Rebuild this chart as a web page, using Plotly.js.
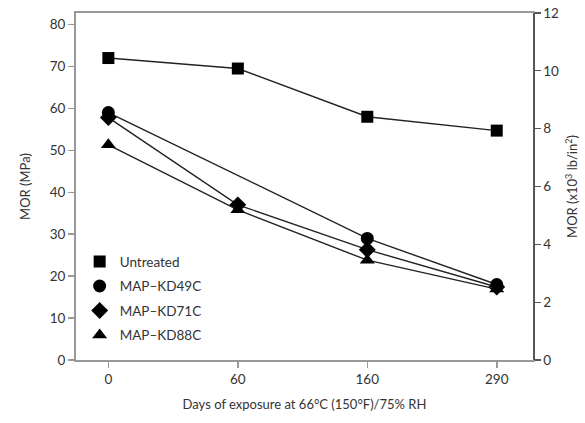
<!DOCTYPE html>
<html>
<head>
<meta charset="utf-8">
<script src="https://cdn.plot.ly/plotly-3.0.1.min.js"></script>
<style>html,body{margin:0;padding:0;background:#fff;}#chart{width:585px;height:423px;}</style>
</head>
<body>
<div id="chart"></div>
<script>
const days = ["0", "60", "160", "290"];
const untreated = [72, 69.5, 58, 54.7];
const kd49c = [59, null, 29, 18];
const kd71c = [57.8, 37, 26.3, 17.4];
const kd88c = [51.3, 35.8, 23.8, 16.9];
const seriesNames = ["Untreated", "MAP\u2013KD49C", "MAP\u2013KD71C", "MAP\u2013KD88C"];
const symbols = ["square", "circle", "diamond", "triangle-up"];
const markerSizes = [12, 13, 13, 13];
const seriesData = [untreated, kd49c, kd71c, kd88c];

const fontFam = "Lato, 'Open Sans', sans-serif";
const traces = [];
seriesData.forEach((vals, i) => {
  traces.push({
    x: days, y: vals, type: "scatter", mode: "lines+markers",
    connectgaps: true, showlegend: false,
    line: {color: "#222", width: 1.4},
    marker: {symbol: symbols[i], size: markerSizes[i], color: "#000"},
    hoverinfo: "skip"
  });
});
seriesData.forEach((vals, i) => {
  traces.push({
    x: [null], y: [null], type: "scatter", mode: "markers", yaxis: "y2",
    name: seriesNames[i], legendgroup: "g" + i, showlegend: true,
    marker: {symbol: symbols[i], size: markerSizes[i], color: "#000"}
  });
});

const layout = {
  width: 585, height: 423,
  margin: {l: 76, r: 52, t: 13, b: 63},
  paper_bgcolor: "#fff", plot_bgcolor: "#fff",
  font: {family: fontFam, size: 13, color: "#333"},
  showlegend: true,
  legend: {x: 0.008, y: 0.328, xanchor: "left", yanchor: "top",
           bgcolor: "rgba(0,0,0,0)", tracegroupgap: 4,
           font: {family: fontFam, size: 13.5, color: "#333"}},
  xaxis: {type: "category", range: [-0.25, 3.28], showgrid: false, zeroline: false,
          showline: true, linecolor: "#999", linewidth: 2, mirror: true,
          ticks: "outside", ticklen: 6, tickcolor: "#999", tickwidth: 1.5,
          tickfont: {size: 13.5, color: "#333"},
          title: {text: "Days of exposure at 66\u00b0C (150\u00b0F)/75% RH", standoff: 14,
                  font: {size: 13, color: "#333"}}},
  yaxis: {range: [0, 82.74], dtick: 10, showgrid: false, zeroline: false,
          showline: true, linecolor: "#999", linewidth: 2,
          ticks: "outside", ticklen: 6, tickcolor: "#999", tickwidth: 1.5,
          tickfont: {size: 13.5, color: "#333"},
          title: {text: "MOR (MPa)", standoff: 16, font: {size: 13, color: "#333"}}},
  yaxis2: {overlaying: "y", side: "right", range: [0, 12], dtick: 2, showgrid: false, zeroline: false,
           showline: true, linecolor: "#555", linewidth: 1.5,
           ticks: "outside", ticklen: 6, tickcolor: "#555", tickwidth: 1.2,
           tickfont: {size: 13.5, color: "#333"},
           title: {text: "MOR (x10<sup>3</sup> lb/in<sup>2</sup>)", standoff: 10, font: {size: 13, color: "#333"}}}
};

Plotly.newPlot("chart", traces, layout, {displayModeBar: false, staticPlot: true});
</script>
</body>
</html>
